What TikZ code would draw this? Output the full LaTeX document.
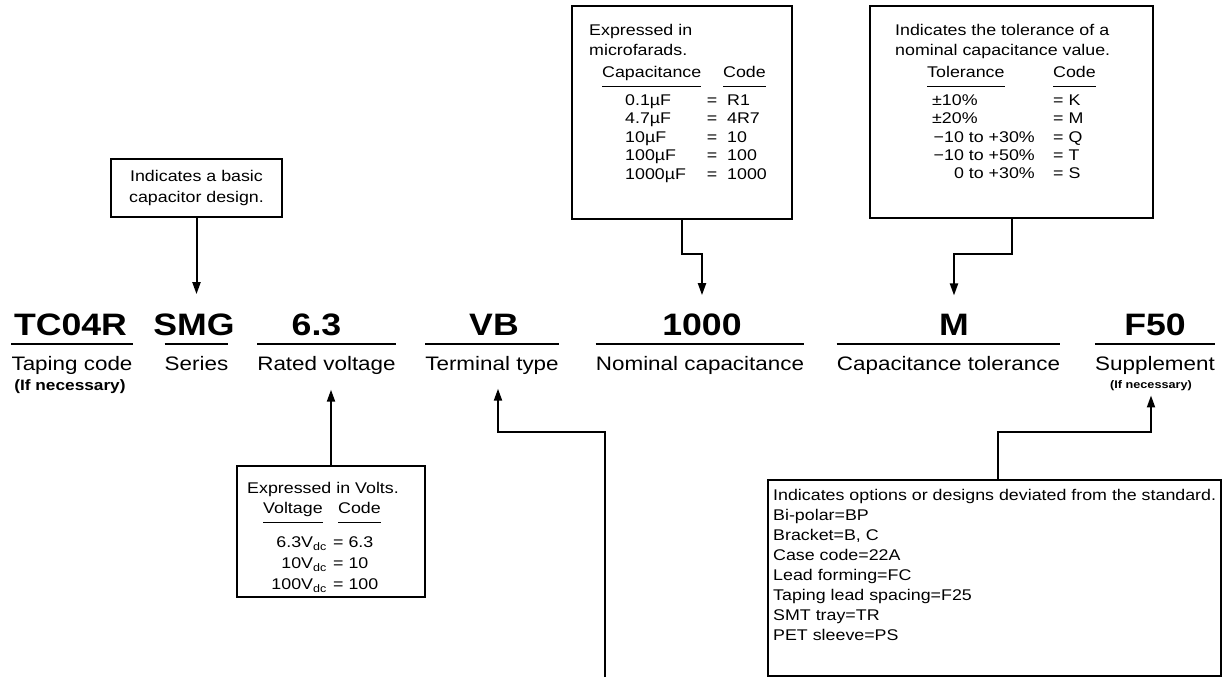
\documentclass[tikz,border=0pt]{standalone}
\usepackage{fontspec}
\setmainfont{Liberation Sans}[FakeStretch=1.15]
\usetikzlibrary{arrows.meta}

\begin{document}
\begin{tikzpicture}[x=1pt,y=-1pt,
    conn/.style={line width=2pt},
    lead/.style={conn,-{Triangle[length=12pt,width=8pt]}},
    frame/.style={draw,line width=2pt,inner sep=0pt,align=center,font=\fontsize{15.5}{21}\selectfont},
    partcode/.style={inner sep=0pt,anchor=base,font=\fontsize{31}{31}\selectfont\bfseries},
    fieldname/.style={inner sep=0pt,anchor=base,text height=14pt,text depth=4.5pt,font=\fontsize{19.5}{22}\selectfont},
    note/.style={inner sep=0pt,anchor=base,font=\fontsize{#1}{#1}\selectfont\bfseries},
    boxtxt/.style={inner sep=0pt,anchor=north west,align=left,font=\fontsize{15.5}{20}\selectfont},
    cell/.style={inner sep=0pt,text height=11.5pt,text depth=3.5pt,font=\fontsize{15.5}{18}\selectfont},
    hdrule/.style={line width=1.2pt}]
  \useasboundingbox (0,0) rectangle (1232,679);

  \node[partcode] (tc) at (70.5,335) {TC04R};
  \node[partcode] (smg) at (194,335) {SMG};
  \node[partcode] (rv) at (316.5,335) {6.3};
  \node[partcode] (vb) at (494,335) {VB};
  \node[partcode] (capc) at (702,335) {1000};
  \node[partcode] (tolm) at (954,335) {M};
  \node[partcode] (supc) at (1155,335) {F50};

  \node[fieldname] (tclbl) at (72,370) {Taping code};
  \node[fieldname] (smglbl) at (196.5,370) {Series};
  \node[fieldname] (rvlbl) at (326.5,370) {Rated voltage};
  \node[fieldname] (vblbl) at (492,370) {Terminal type};
  \node[fieldname] (caplbl) at (700,370) {Nominal capacitance};
  \node[fieldname] (tollbl) at (948.5,370) {Capacitance tolerance};
  \node[fieldname] (suplbl) at (1155,370) {Supplement};
  \node[note=15] (tcnote) at (70,390) {(If necessary)};
  \node[note=11] (supnote) at (1151,388) {(If necessary)};
  \foreach \f in {tclbl,smglbl,rvlbl,vblbl,caplbl,tollbl,suplbl}
    \draw[conn] ([yshift=12pt]\f.north west) -- ([yshift=12pt]\f.north east);

  \node[frame,minimum width=171pt,minimum height=58pt] (basicbox) at (196.5,188) {Indicates a basic\\capacitor design.};
  \draw[lead,shorten >=19pt] (basicbox.south) -- (basicbox.south |- smg.north);

  \node[frame,minimum width=220pt,minimum height=213pt] (capbox) at (682,112.5) {};
  \node[boxtxt] (capintro) at (589,24) {Expressed in\\microfarads.};
  \node[cell,anchor=base west] (caphd) at (602,78) {Capacitance};
  \node[cell,anchor=base west] (capcodehd) at (723,78) {Code};
  \foreach \h in {caphd,capcodehd}
    \draw[hdrule] ([yshift=-5pt]\h.south west) -- ([yshift=-5pt]\h.south east);
  \foreach \val/\cd [count=\i] in {0.1µF/R1,4.7µF/4R7,10µF/10,100µF/100,1000µF/1000} {
    \node[cell,anchor=base west] (capv\i) at (625,87+18.5*\i) {\val};
    \node[cell,anchor=base] (capeq\i) at (712,87+18.5*\i) {=};
    \node[cell,anchor=base west] (capk\i) at (727,87+18.5*\i) {\cd};
  }
  \draw[lead,shorten >=18pt] (capbox.south) -- ++(0,34) -| (capc.north);

  \node[frame,minimum width=283pt,minimum height=212pt] (tolbox) at (1011.5,112) {};
  \node[boxtxt] (tolintro) at (895,24) {Indicates the tolerance of a\\nominal capacitance value.};
  \node[cell,anchor=base west] (tolhd) at (927,78) {Tolerance};
  \node[cell,anchor=base west] (tolcodehd) at (1053,78) {Code};
  \foreach \h in {tolhd,tolcodehd}
    \draw[hdrule] ([yshift=-5pt]\h.south west) -- ([yshift=-5pt]\h.south east);
  \foreach \tolv/\cd/\anc/\xpos [count=\i] in {±10\%/K/west/932,±20\%/M/west/932,−10 to +30\%/Q/east/1035,−10 to +50\%/T/east/1035,0 to +30\%/S/east/1035} {
    \node[cell,anchor=base \anc] (tolv\i) at (\xpos,87+18.4*\i) {\tolv};
    \node[cell,anchor=base west] (tolk\i) at (1053,87+18.4*\i) {= \cd};
  }
  \draw[lead,shorten >=18pt] (tolbox.south) -- ++(0,35) -| (tolm.north);

  \node[frame,minimum width=188pt,minimum height=131pt] (voltbox) at (331,531.5) {};
  \node[cell,anchor=base west] (voltintro) at (247,493.5) {Expressed in Volts.};
  \node[cell,anchor=base west] (volthd) at (263,513.5) {Voltage};
  \node[cell,anchor=base west] (voltcodehd) at (338,513.5) {Code};
  \foreach \h in {volthd,voltcodehd}
    \draw[hdrule] ([yshift=-5pt]\h.south west) -- ([yshift=-5pt]\h.south east);
  \foreach \val/\cd [count=\i] in {6.3/6.3,10/10,100/100} {
    \node[cell,anchor=base east] (voltv\i) at (327,526.5+21*\i) {\val V\textsubscript{dc}};
    \node[cell,anchor=base west] (voltk\i) at (333,526.5+21*\i) {= \cd};
  }
  \draw[lead,shorten >=15pt] (voltbox.north) -- (voltbox.north |- rvlbl.south);

  \coordinate (termfoot) at (605,677);
  \draw[lead,shorten >=14pt] (termfoot) -- ++(0,-245) -| ([xshift=6pt]vblbl.south);

  \node[frame,minimum width=453pt,minimum height=196pt] (supbox) at (994.5,578) {};
  \node[boxtxt] (supintro) at (773,489) {Indicates options or designs deviated from the standard.\\Bi-polar=BP\\Bracket=B, C\\Case code=22A\\Lead forming=FC\\Taping lead spacing=F25\\SMT tray=TR\\PET sleeve=PS};
  \draw[lead,shorten >=5pt] ([xshift=3.5pt]supbox.north) -- ++(0,-47) -| (supnote.south);
\end{tikzpicture}
\end{document}
